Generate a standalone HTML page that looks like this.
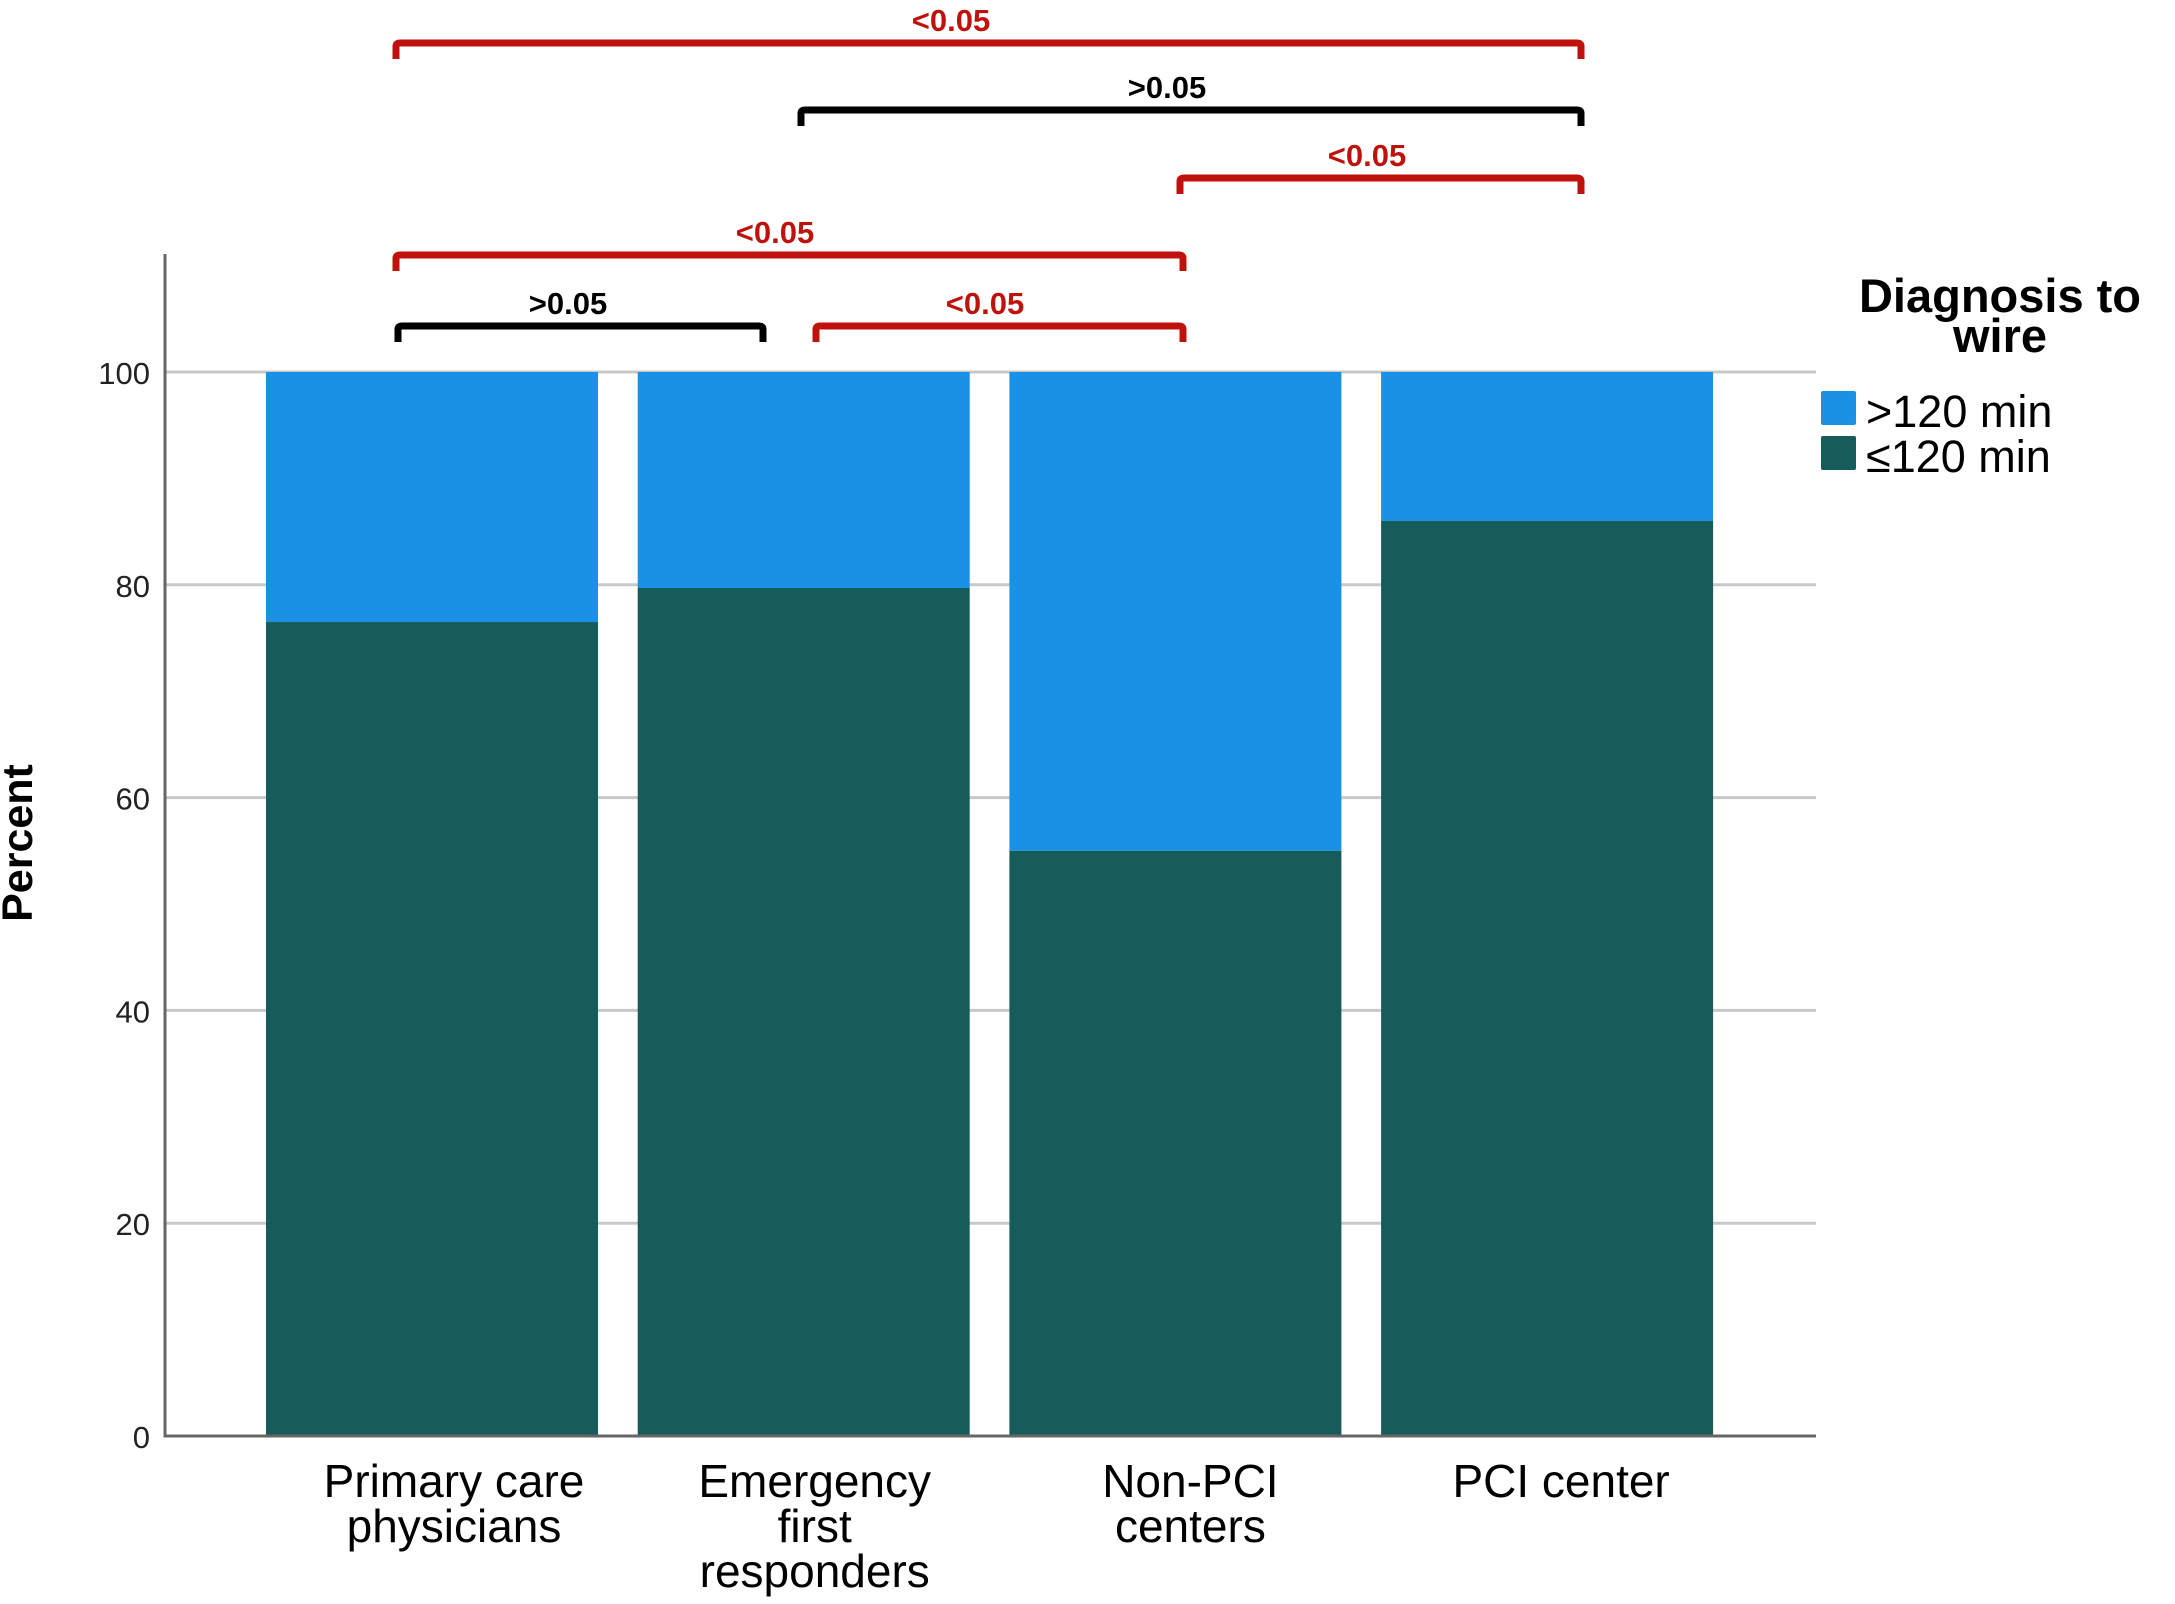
<!DOCTYPE html>
<html><head><meta charset="utf-8"><style>
html,body{margin:0;padding:0;background:#fff}
svg{display:block}
text{font-family:"Liberation Sans",sans-serif}
</style></head><body>
<svg id="chart" width="2175" height="1604" viewBox="0 0 2175 1604">
<g id="grid"></g>
<g id="bars"></g>
<g id="axes"></g>
<g id="brackets"></g>
<text x="32" y="843" transform="rotate(-90 32 843)" text-anchor="middle" font-size="43" font-weight="bold">Percent</text>
<g>
<text x="2000" y="312" text-anchor="middle" font-size="47" font-weight="bold">Diagnosis to</text>
<text x="2000" y="352" text-anchor="middle" font-size="47" font-weight="bold">wire</text>
<rect x="1821" y="391" width="35" height="34" rx="2" fill="#1b91e6"/>
<text x="1866" y="427" font-size="45">&gt;120 min</text>
<rect x="1821" y="436" width="35" height="34" rx="2" fill="#165c5a"/>
<text x="1866" y="472" font-size="45">≤120 min</text>
</g>
</svg>
<script>
const categories = [["Primary care","physicians"],["Emergency","first","responders"],["Non-PCI","centers"],["PCI center"]];
const under120 = [76.5, 79.7, 55.0, 86.0];
const over120 = [23.5, 20.3, 45.0, 14.0];
const yTicks = [0, 20, 40, 60, 80, 100];
const bracketLabels = ["<0.05", ">0.05", "<0.05", "<0.05", ">0.05", "<0.05"];

const NS = "http://www.w3.org/2000/svg";
const x0 = 165, xEnd = 1816, y0 = 1436, yTop = 372;
const barStart = 266, period = 371.7, barW = 332;
const labelShift = [22, 11, 15, 14];
function yScale(v){ return y0 - (y0 - yTop) * v / 100; }
function xBar(i){ return barStart + i * period; }
function mk(tag, attrs, parent){ const e = document.createElementNS(NS, tag); for (const k in attrs) e.setAttribute(k, attrs[k]); parent.appendChild(e); return e; }

const grid = document.getElementById('grid');
const axes = document.getElementById('axes');
yTicks.forEach(t => {
  if (t > 0) {
    const g = mk('line', {x1: x0, x2: xEnd, y1: yScale(t), y2: yScale(t), stroke: '#c8c8c8', 'stroke-width': 3}, grid);
    
    
  }
  const tl = mk('text', {x: 150, y: yScale(t) + 12, 'text-anchor': 'end', 'font-size': 31, fill: '#222', 'font-family': '"DejaVu Sans Condensed","DejaVu Sans",sans-serif'}, axes);
  tl.textContent = t;
  
  
});

const bars = document.getElementById('bars');
categories.forEach((c, i) => {
  const x = xBar(i);
  const r1 = mk('rect', {x: x, y: yScale(under120[i] + over120[i]), width: barW, height: yScale(under120[i]) - yScale(under120[i] + over120[i]), fill: '#1b91e6'}, bars);
  
  
  const r2 = mk('rect', {x: x, y: yScale(under120[i]), width: barW, height: y0 - yScale(under120[i]), fill: '#165c5a'}, bars);
  
  
  c.forEach((line, j) => {
    const t = mk('text', {x: x + barW / 2 + labelShift[i], y: 1497 + j * 45, 'text-anchor': 'middle', 'font-size': 46}, axes);
    t.textContent = line;
    
    
  });
});

const ya = mk('line', {x1: x0, x2: x0, y1: 254, y2: y0 + 1.5, stroke: '#666', 'stroke-width': 3}, axes);


const xa = mk('line', {x1: x0, x2: xEnd, y1: y0, y2: y0, stroke: '#666', 'stroke-width': 3}, axes);



// bracket geometry (layout, not data): start x, end x, y, colour, label x
const bGeom = [[396,1581,43,'#c0120c',951],[801,1581,110,'#000',1167],[1180,1581,178,'#c0120c',1367],[396,1183,255,'#c0120c',775],[398,763,326,'#000',568],[816,1183,326,'#c0120c',985]];
const br = document.getElementById('brackets');
bGeom.forEach((b, i) => {
  const [a, z, y, col, lx] = b;
  const p = mk('path', {d: `M${a},${y+16} L${a},${y+3} Q${a},${y} ${a+4},${y} L${z-4},${y} Q${z},${y} ${z},${y+3} L${z},${y+16}`, fill: 'none', stroke: col, 'stroke-width': 7}, br);
  
  
  const t = mk('text', {x: lx, y: y - 12, 'text-anchor': 'middle', 'font-size': 31, 'font-weight': 'bold', fill: col, 'font-family': '"Liberation Sans Narrow","DejaVu Sans Condensed",sans-serif'}, br);
  t.textContent = bracketLabels[i];
  
  
});
</script>
</body></html>
